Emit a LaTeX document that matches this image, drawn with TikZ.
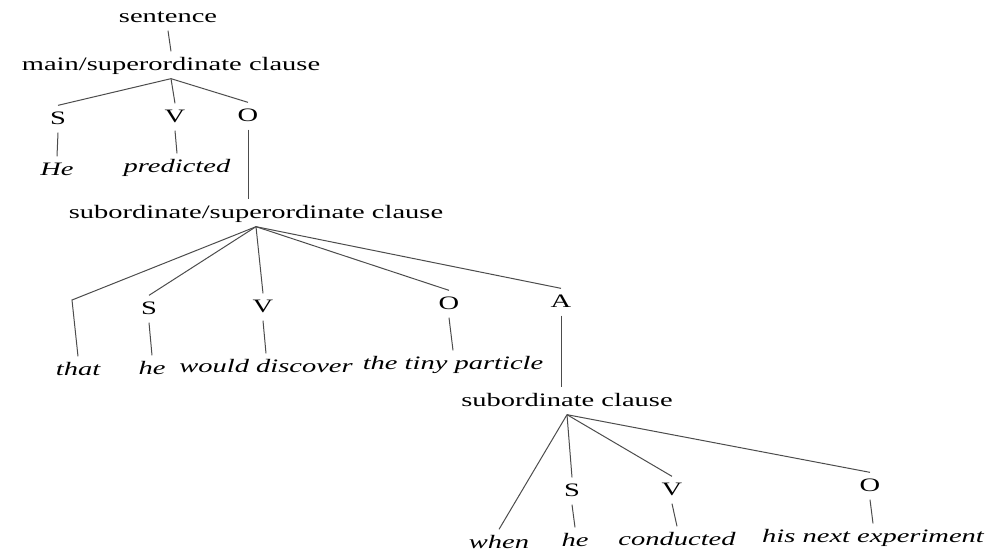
\documentclass[tikz,border=0pt]{standalone}
\usepackage{fontspec}
\setmainfont{Liberation Serif}[FakeStretch=1.5]
\usepackage{tikz}
\tikzset{
  every node/.style = {font=\fontsize{9.5}{11}\selectfont, inner sep=2.5pt,
    text height=1.5ex, text depth=.3ex}
}
\tikzset{
  word/.style = {font=\fontsize{9.5}{11}\selectfont\itshape},
  branch/.style = {line width=0.5pt, draw=black!70}
}

\begin{document}
\begin{tikzpicture}[x=0.5pt,y=-0.5pt]
\useasboundingbox (0,0) rectangle (985,553);

% The main clause
\node (sent) at (168,17) {sentence};
\node (main) at (171,65) {main/superordinate clause};
\node (s1) at (58,119) {S};
\node (v1) at (175,117) {V};
\node (o1) at (248,116) {O};
\node[word] (he1) at (57,170) {He};
\node[word] (pred) at (177,167) {predicted};

\draw[branch] (sent.south) -- (main.north);
\draw[branch] (main.south) -- (s1.north);
\draw[branch] (main.south) -- (v1.north);
\draw[branch] (main.south) -- (o1.north);
\draw[branch] (s1.south) -- (he1.north);
\draw[branch] (v1.south) -- (pred.north);

% The object clause
\node (sub1) at (256,213) {subordinate/superordinate clause};
\coordinate (bend) at (72,300);
\node (s2) at (149,309) {S};
\node (v2) at (263,307) {V};
\node (o2) at (449,304) {O};
\node (a2) at (561,302) {A};
\node[word] (that) at (78,370) {that};
\node[word] (he2) at (152,369) {he};
\node[word] (disc) at (266,367) {would discover};
\node[word] (part) at (453,364) {the tiny particle};

\draw[branch] (o1.south) -- (o1.south |- sub1.north);
\draw[branch] (sub1.south) -- (bend) -- (that.north);
\draw[branch] (sub1.south) -- (s2.north);
\draw[branch] (sub1.south) -- (v2.north);
\draw[branch] (sub1.south) -- (o2.north);
\draw[branch] (sub1.south) -- (a2.north);
\draw[branch] (s2.south) -- (he2.north);
\draw[branch] (v2.south) -- (disc.north);
\draw[branch] (o2.south) -- (part.north);

% The adverbial clause
\node (sub2) at (567,401) {subordinate clause};
\node (s3) at (572,491) {S};
\node (v3) at (672,490) {V};
\node (o3) at (870,486) {O};
\node[word] (when) at (499,543) {when};
\node[word] (he3) at (575,541) {he};
\node[word] (cond) at (677,540) {conducted};
\node[word] (exp) at (873,537) {his next experiment};

\draw[branch] (a2.south) -- (a2.south |- sub2.north);
\draw[branch] (sub2.south) -- (when.north);
\draw[branch] (sub2.south) -- (s3.north);
\draw[branch] (sub2.south) -- (v3.north);
\draw[branch] (sub2.south) -- (o3.north);
\draw[branch] (s3.south) -- (he3.north);
\draw[branch] (v3.south) -- (cond.north);
\draw[branch] (o3.south) -- (exp.north);
\end{tikzpicture}
\end{document}
